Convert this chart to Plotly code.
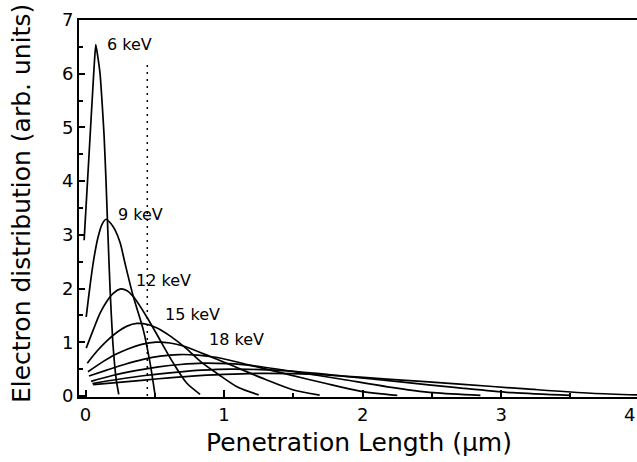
import plotly.graph_objects as go

# ---- data ----
energies = ["6 keV", "9 keV", "12 keV", "15 keV", "18 keV", "21 keV", "24 keV", "27 keV", "30 keV"]

x_6 = [-0.01, 0.01, 0.03, 0.05, 0.065, 0.074, 0.085, 0.105, 0.12, 0.134, 0.148, 0.162, 0.177, 0.197, 0.222, 0.24]
y_6 = [2.9, 3.8, 4.7, 5.6, 6.25, 6.54, 6.38, 6.0, 5.45, 4.85, 4.0, 3.0, 2.0, 1.0, 0.3, 0.03]

x_9 = [0.005, 0.03, 0.06, 0.09, 0.12, 0.148, 0.18, 0.213, 0.25, 0.285, 0.345, 0.417, 0.466, 0.50]
y_9 = [1.47, 2.0, 2.55, 2.95, 3.2, 3.29, 3.22, 3.09, 2.85, 2.47, 1.85, 1.23, 0.61, 0.05]

x_12 = [0.005, 0.056, 0.105, 0.153, 0.2, 0.249, 0.30, 0.345, 0.44, 0.538, 0.634, 0.73, 0.827]
y_12 = [0.89, 1.23, 1.54, 1.76, 1.91, 1.99, 1.96, 1.85, 1.48, 1.04, 0.61, 0.24, 0.03]

x_15 = [0.013, 0.085, 0.16, 0.23, 0.30, 0.37, 0.45, 0.52, 0.62, 0.72, 0.84, 0.96, 1.10, 1.25]
y_15 = [0.61, 0.84, 1.04, 1.19, 1.30, 1.35, 1.33, 1.26, 1.10, 0.90, 0.62, 0.40, 0.16, 0.02]

x_18 = [0.018, 0.115, 0.215, 0.31, 0.405, 0.51, 0.61, 0.705, 0.895, 1.10, 1.295, 1.49, 1.69]
y_18 = [0.45, 0.62, 0.77, 0.88, 0.96, 1.0, 0.985, 0.93, 0.74, 0.52, 0.31, 0.12, 0.015]

x_21 = [0.025, 0.153, 0.286, 0.416, 0.54, 0.675, 0.81, 0.94, 1.19, 1.46, 1.72, 1.98, 2.25]
y_21 = [0.37, 0.48, 0.59, 0.68, 0.74, 0.77, 0.76, 0.72, 0.57, 0.40, 0.24, 0.09, 0.01]

x_24 = [0.04, 0.194, 0.362, 0.527, 0.684, 0.855, 1.026, 1.19, 1.51, 1.85, 2.18, 2.51, 2.85]
y_24 = [0.27, 0.38, 0.47, 0.54, 0.585, 0.61, 0.60, 0.57, 0.45, 0.31, 0.17, 0.06, 0.01]

x_27 = [0.05, 0.238, 0.445, 0.648, 0.84, 1.05, 1.26, 1.46, 1.855, 2.275, 2.68, 3.08, 3.5]
y_27 = [0.23, 0.31, 0.385, 0.44, 0.48, 0.50, 0.49, 0.465, 0.37, 0.26, 0.155, 0.06, 0.01]

x_30 = [0.055, 0.282, 0.527, 0.768, 0.996, 1.245, 1.494, 1.73, 2.2, 2.70, 3.18, 3.65, 4.15]
y_30 = [0.21, 0.26, 0.32, 0.37, 0.40, 0.42, 0.414, 0.39, 0.31, 0.22, 0.13, 0.05, 0.006]

curves_x = [x_6, x_9, x_12, x_15, x_18, x_21, x_24, x_27, x_30]
curves_y = [y_6, y_9, y_12, y_15, y_18, y_21, y_24, y_27, y_30]

# dotted marker line
marker_x = [0.446, 0.446]
marker_y = [0.0, 6.2]

# curve labels (first five energies) and their anchor points in data units
label_text = ["6 keV", "9 keV", "12 keV", "15 keV", "18 keV"]
label_pos = [(0.315, 6.55), (0.40, 3.38), (0.56, 2.15), (0.77, 1.51), (1.09, 1.05)]

x_ticks = [0, 1, 2, 3]
x_last_tick = "4"
y_ticks = [0, 1, 2, 3, 4, 5, 6, 7]

FONT = "DejaVu Sans"

fig = go.Figure()
for name, xs, ys in zip(energies, curves_x, curves_y):
    fig.add_trace(go.Scatter(x=xs, y=ys, mode="lines", name=name,
                             line=dict(color="black", width=1.7, shape="spline",
                                       smoothing=0.5 if name == "6 keV" else 0.8),
                             showlegend=False, hoverinfo="skip"))

fig.add_trace(go.Scatter(x=marker_x, y=marker_y, mode="lines", showlegend=False,
                         line=dict(color="black", width=1.5, dash="2px,5px"), hoverinfo="skip"))

for t, (lx, ly) in zip(label_text, label_pos):
    fig.add_annotation(x=lx, y=ly, xref="x", yref="y", text=t, showarrow=False,
                       font=dict(family=FONT, size=16, color="black"),
                       xanchor="center", yanchor="middle")

# the "4" tick label at the right edge (its tick lies just past the frame); kept fully inside the page
fig.add_annotation(x=1.0, y=0, xref="paper", yref="paper", text=x_last_tick,
                   showarrow=False, yanchor="top", xanchor="right", yshift=-5,
                   font=dict(family=FONT, size=18, color="black"))

# axis titles
fig.add_annotation(x=-0.102, y=0.512, xref="paper", yref="paper",
                   text="Electron distribution (arb. units)", textangle=-90,
                   showarrow=False, xanchor="center", yanchor="middle",
                   font=dict(family=FONT, size=25, color="black"))
fig.add_annotation(x=0.502, y=-0.122, xref="paper", yref="paper",
                   text="Penetration Length (\u00b5m)",
                   showarrow=False, xanchor="center", yanchor="middle",
                   font=dict(family=FONT, size=25, color="black"))

fig.update_layout(
    width=637, height=462,
    margin=dict(l=79, r=0, t=20, b=65),
    paper_bgcolor="white", plot_bgcolor="white",
    font=dict(family=FONT, color="black"),
    xaxis=dict(range=[-0.047, 3.98], tickvals=x_ticks, ticks="inside", ticklen=7, tickwidth=1.5,
               tickcolor="black", showline=True, linewidth=2, linecolor="black", mirror=True,
               showgrid=False, zeroline=False, automargin=False,
               tickfont=dict(family=FONT, size=18, color="black"),
               minor=dict(dtick=0.5, ticks="inside", ticklen=4, tickwidth=1.5, tickcolor="black", showgrid=False)),
    yaxis=dict(range=[-0.02, 7.0], tickvals=y_ticks, ticks="inside", ticklen=6, tickwidth=1.5,
               tickcolor="black", showline=True, linewidth=2, linecolor="black", mirror=False,
               showgrid=False, zeroline=False, automargin=False,
               tickfont=dict(family=FONT, size=18, color="black"),
               minor=dict(dtick=0.5, ticks="inside", ticklen=4, tickwidth=1.5, tickcolor="black", showgrid=False)),
)

fig.write_html("out.html")
